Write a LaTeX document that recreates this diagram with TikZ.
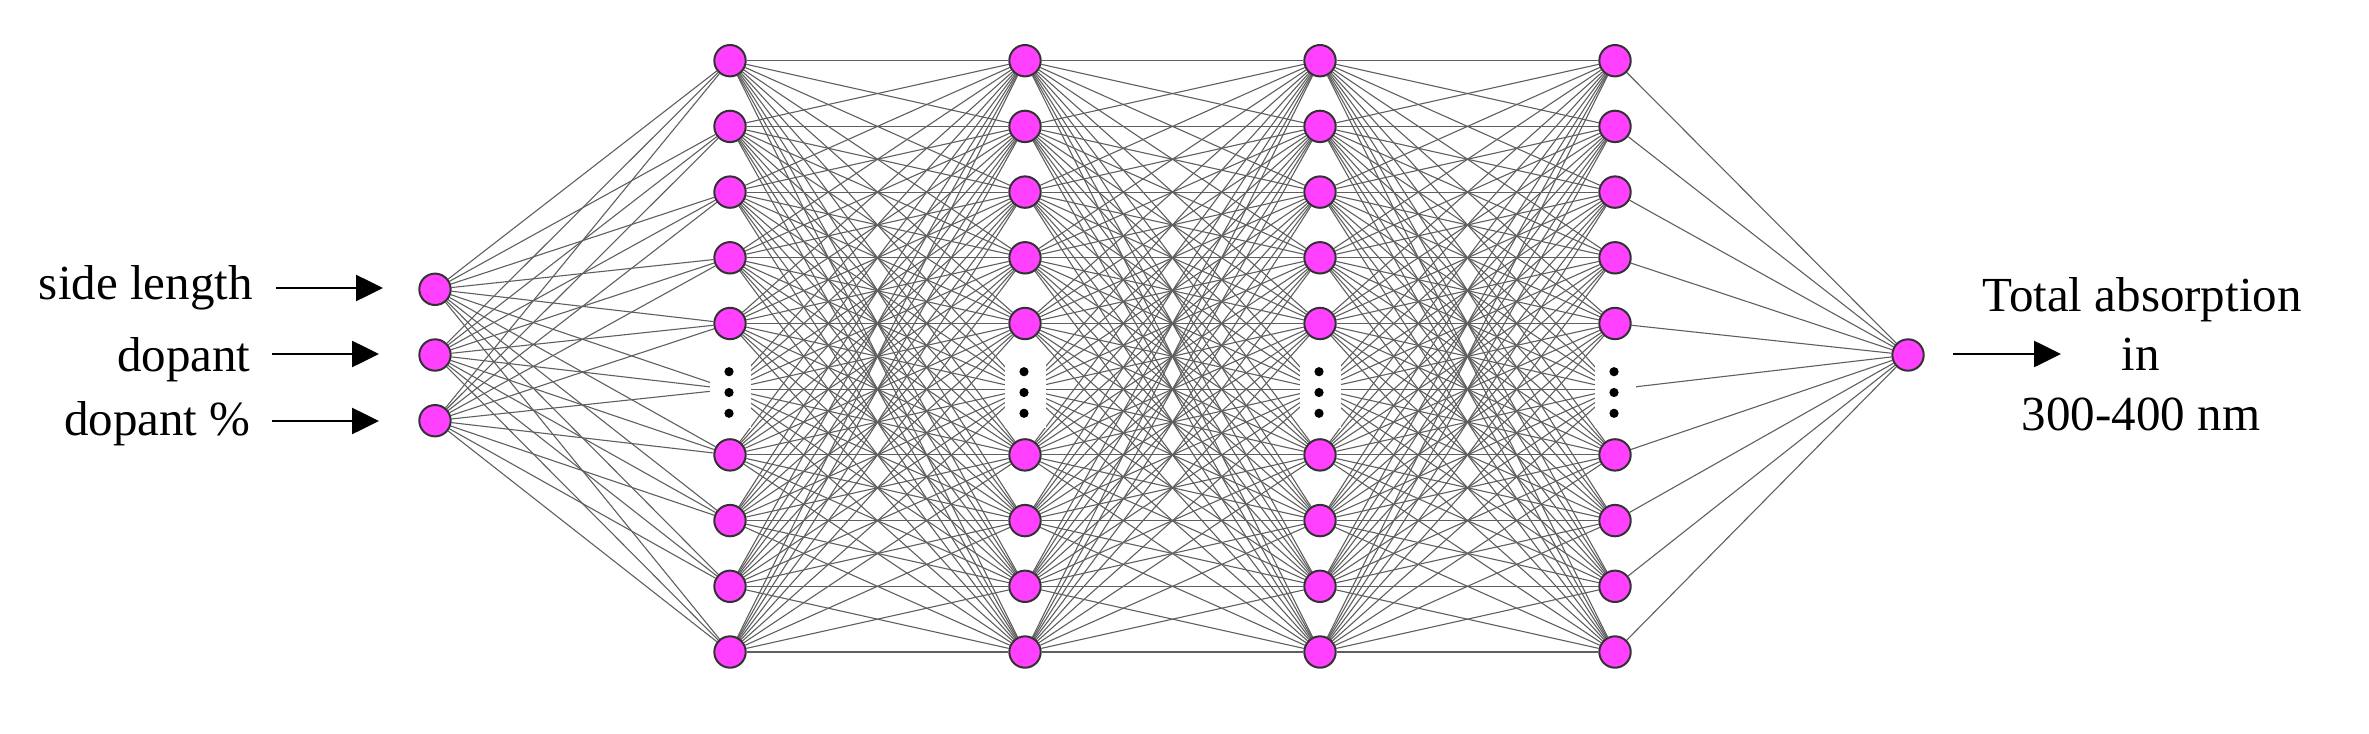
\documentclass[tikz,border=0pt]{standalone}
\usepackage{fontspec}
\setmainfont{Liberation Serif}
\usetikzlibrary{arrows.meta}
\pgfdeclarelayer{background}
\pgfsetlayers{background,main}
\definecolor{neuronfill}{RGB}{255,64,255}
\definecolor{rimcol}{RGB}{50,50,50}
\definecolor{wirecol}{RGB}{95,95,95}
\begin{document}
\begin{tikzpicture}[x=0.5pt,y=-0.5pt,
  neuron/.style={circle,fill=neuronfill,draw=rimcol,line width=1pt,minimum size=15.7pt,inner sep=0pt},
  gapbox/.style={rectangle,fill=white,minimum width=20.5pt,minimum height=34pt,inner sep=0pt},
  dotmark/.style={circle,fill=black,minimum size=4.6pt,inner sep=0pt},
  wire/.style={draw=wirecol,line width=0.55pt},
  feed/.style={line width=1.3pt,-{Triangle[length=13.5pt,width=13pt]}},
  lbl/.style={font=\fontsize{24.5pt}{29.5pt}\selectfont,inner sep=0pt}]
\useasboundingbox (0,0) rectangle (2369,733);

% input layer
\foreach \i/\y in {1/289.3,2/355,3/420.7}
  \node[neuron] (in\i) at (435,\y) {};

% hidden layers
\foreach \l/\x in {1/730,2/1025,3/1320,4/1615} {
  \foreach \k in {0,...,9} {
    \pgfmathsetmacro\yy{60.7+65.7*\k}
    \ifnum\k=5
      \coordinate (h\l-\k) at (\x,\yy);
    \else
      \node[neuron] (h\l-\k) at (\x,\yy) {};
    \fi
  }
  \node[gapbox] (gap\l) at (\x,394) {};
  \node[dotmark] (d\l-a) at (\x-1,371.7) {};
  \node[dotmark] (d\l-b) at (\x-1,392.5) {};
  \node[dotmark] (d\l-c) at (\x-1,413.3) {};
}

% output
\node[neuron] (out) at (1908,355) {};

% connections
\begin{pgfonlayer}{background}
  \foreach \i in {1,2,3}
    \foreach \k in {0,...,9}
      \draw[wire] (in\i) -- (h1-\k);
  \foreach \l/\m in {1/2,2/3,3/4}
    \foreach \k in {0,...,9}
      \foreach \j in {0,...,9}
        \draw[wire] (h\l-\k) -- (h\m-\j);
  \foreach \k in {0,...,9}
    \draw[wire] (h4-\k) -- (out);
\end{pgfonlayer}

% input labels and arrows
\node[lbl,anchor=base east] (l1) at (253,299.3) {side length};
\node[lbl,anchor=base east] (l2) at (251,371.7) {dopant};
\node[lbl,anchor=base east] (l3) at (251,435) {dopant \%};
\coordinate (a1s) at (276,288);   \coordinate (a1e) at (383,288);
\coordinate (a2s) at (272,354);   \coordinate (a2e) at (379,354);
\coordinate (a3s) at (272,421);   \coordinate (a3e) at (379,421);
\draw[feed] (a1s) -- (a1e);
\draw[feed] (a2s) -- (a2e);
\draw[feed] (a3s) -- (a3e);

% output arrow and label
\coordinate (os) at (1953,354); \coordinate (oe) at (2061,354);
\draw[feed] (os) -- (oe);
\node[lbl,anchor=base] (t1) at (2142,311.7) {Total absorption};
\node[lbl,anchor=base] (t2) at (2141,370.7) {in};
\node[lbl,anchor=base] (t3) at (2141,430) {300-400 nm};
\end{tikzpicture}
\end{document}
